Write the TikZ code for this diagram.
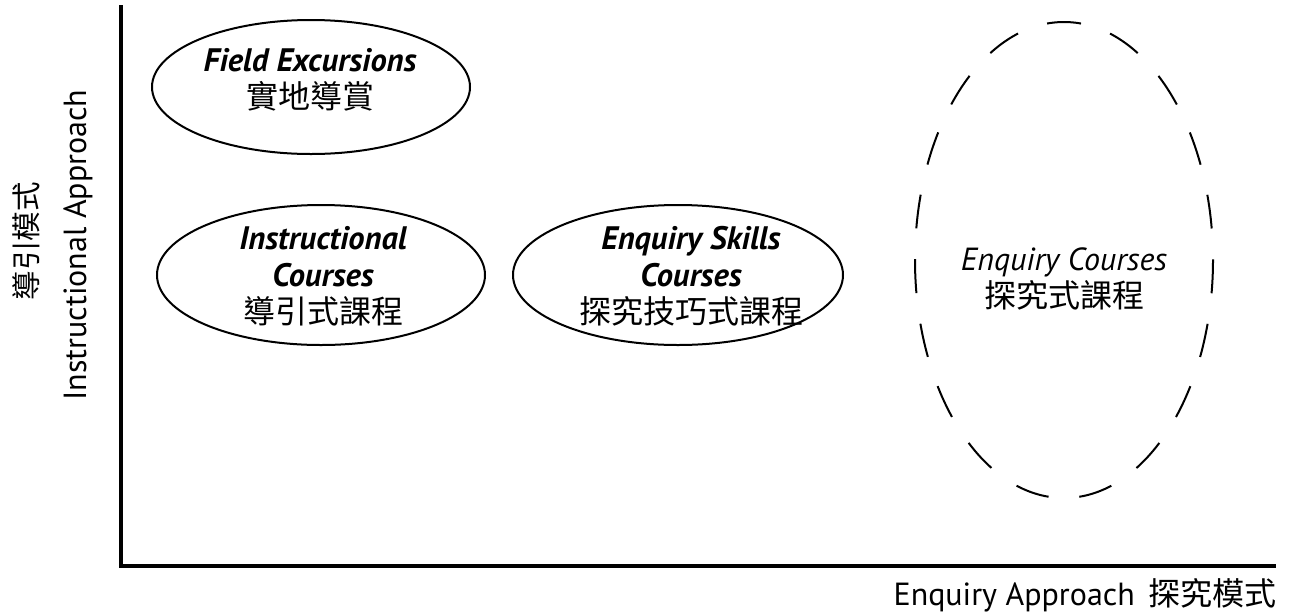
\documentclass[tikz,border=0pt]{standalone}
\usepackage{fontspec}
\setmainfont{PT Sans}
\newfontfamily\zhfont{Noto Sans CJK TC}
\usetikzlibrary{shapes.geometric}

\newcommand{\entxt}[1]{{\fontsize{32.5}{37}\selectfont\bfseries\itshape #1}}
\newcommand{\zhtxt}[1]{{\zhfont\fontsize{32}{37}\selectfont #1}}

\tikzset{
  oval/.style={ellipse, draw, line width=2pt, inner sep=0pt},
  ovaltext/.style={align=center, inner sep=0pt, font=\fontsize{32}{37}\selectfont},
  axislabel/.style={inner sep=0pt, font=\fontsize{32}{37}\selectfont}
}

\begin{document}
\begin{tikzpicture}[x=1pt, y=-1pt]
\useasboundingbox (0,0) rectangle (1291,614);

% axes
\coordinate (top) at (121,5);
\coordinate (origin) at (121,566);
\coordinate (far) at (1276,566);
\draw [line width=4.5pt] (top) -- (origin) -- (far);

\node [axislabel, anchor=east] (xlabel) at (1277,595) {Enquiry Approach\hspace{14pt}\zhtxt{探究模式}};
\node [axislabel, rotate=90] (ylabel) at (78,245) {Instructional Approach};
\node [axislabel, rotate=90] (yzh) at (26,241) {{\zhfont\fontsize{29.5}{37}\selectfont 導引模式}};

% course types
\node [oval, minimum width=318pt, minimum height=134pt] (field) at (311,87) {};
\node [oval, minimum width=328pt, minimum height=140pt] (instr) at (321,275) {};
\node [oval, minimum width=330pt, minimum height=140pt] (skills) at (678,275) {};
\node [ellipse, inner sep=0pt, outer sep=0pt,
       minimum width=298pt, minimum height=476pt] (enquiry) at (1064,260) {};
\draw [line width=2pt, dash pattern=on 34pt off 30.84pt, dash phase=17pt]
  (enquiry.north) arc [start angle=90, end angle=450, x radius=149pt, y radius=238pt];

\node [ovaltext] (fieldtxt) at (310,80) {\entxt{Field Excursions}\\ \zhtxt{實地導賞}};
\node [ovaltext] (instrtxt) at (323,276) {\entxt{Instructional}\\ \entxt{Courses}\\ \zhtxt{導引式課程}};
\node [ovaltext] (skillstxt) at (691,276) {\entxt{Enquiry Skills}\\ \entxt{Courses}\\ \zhtxt{探究技巧式課程}};
\node [ovaltext] (enquirytxt) at (1064,279) {{\itshape Enquiry Courses}\\ \zhtxt{探究式課程}};

\end{tikzpicture}
\end{document}
